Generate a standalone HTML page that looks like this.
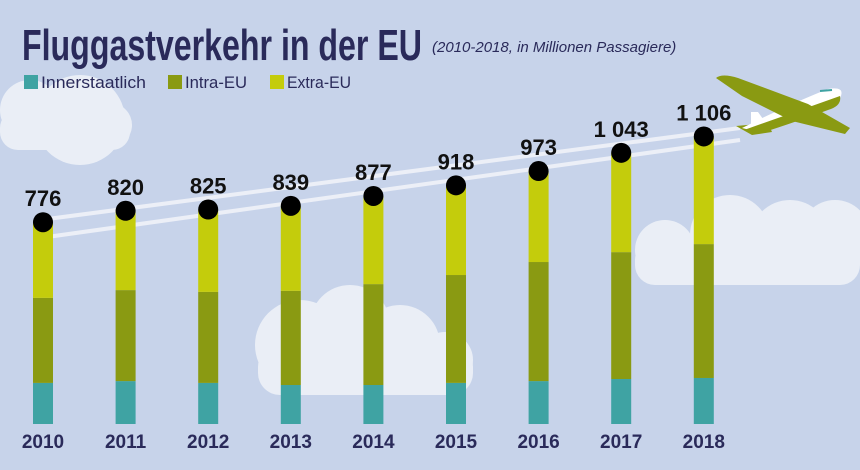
<!DOCTYPE html>
<html><head><meta charset="utf-8"><style>
html,body{margin:0;padding:0}
body{width:860px;height:470px;overflow:hidden;background:#c7d3ea;font-family:"Liberation Sans",sans-serif}
svg{display:block}
</style></head><body>
<svg width="860" height="470" viewBox="0 0 860 470">
<g fill="#eef2f8" opacity="0.9">
  <g><circle cx="30" cy="110" r="30"/><circle cx="80" cy="120" r="45"/><circle cx="110" cy="125" r="22"/><rect x="0" y="110" width="130" height="40" rx="18"/></g>
  <g><circle cx="300" cy="345" r="45"/><circle cx="350" cy="325" r="40"/><circle cx="400" cy="345" r="40"/><circle cx="445" cy="360" r="28"/><rect x="258" y="345" width="215" height="50" rx="22"/></g>
  <g><circle cx="665" cy="250" r="30"/><circle cx="730" cy="235" r="40"/><circle cx="790" cy="240" r="40"/><circle cx="835" cy="235" r="35"/><rect x="635" y="240" width="225" height="45" rx="20"/></g>
</g>
<g stroke="#f3f5fa" stroke-width="4" fill="none" opacity="0.85">
  <path d="M40 220 L740 128"/><path d="M40 238 L740 140"/>
</g>
<g>
  <path d="M751 112 L758 112 L768 126 L751 129 Z" fill="#ffffff"/>
  <path d="M736 126 L768 123 L772 132 L752 135 Z" fill="#8a9a12"/>
  <path d="M742 128 Q790 104 828 89 Q846 86 840 98 Q800 118 758 132 Z" fill="#ffffff"/>
  <path d="M744 130 Q795 112 840 96 Q842 106 828 110 Q790 124 758 134 Z" fill="#8a9a12"/>
  <path d="M716 78 Q722 73 738 78 L808 104 L850 128 L845 134 L792 121 L742 96 Z" fill="#8a9a12"/>
  <path d="M820 91 L832 90" stroke="#3fa3a3" stroke-width="2"/>
</g>
<text x="22" y="60" font-size="44" font-weight="bold" fill="#2a2a5a" textLength="400" lengthAdjust="spacingAndGlyphs">Fluggastverkehr in der EU</text>
<text x="432" y="52" font-size="15" font-style="italic" fill="#2a2a5a">(2010-2018, in Millionen Passagiere)</text>
<g font-size="17" fill="#2a2a5a">
  <rect x="24" y="75" width="14" height="14" fill="#3fa3a3"/><text x="41" y="88" textLength="105" lengthAdjust="spacingAndGlyphs">Innerstaatlich</text>
  <rect x="168" y="75" width="14" height="14" fill="#8a9a12"/><text x="185" y="88" textLength="62" lengthAdjust="spacingAndGlyphs">Intra-EU</text>
  <rect x="270" y="75" width="14" height="14" fill="#c4cc0c"/><text x="287" y="88" textLength="64" lengthAdjust="spacingAndGlyphs">Extra-EU</text>
</g>
<g id="bars"></g>
</svg>
<script>
const years = ["2010","2011","2012","2013","2014","2015","2016","2017","2018"];
const innerstaatlich = [158,165,158,150,150,158,165,173,177];
const intraEU = [327,350,350,362,388,415,458,488,515];
const extraEU = [291,305,317,327,339,345,350,382,414];
const totalLabels = ["776","820","825","839","877","918","973","1 043","1 106"];

const NS="http://www.w3.org/2000/svg";
const base=424, k=0.26, x0=43, step=82.6, bw=20;
const xPos=i=>x0+i*step;
const yPos=v=>base-v*k;
const g=document.getElementById('bars');
function mk(tag,attrs){const e=document.createElementNS(NS,tag);for(const a in attrs)e.setAttribute(a,attrs[a]);g.appendChild(e);return e;}
years.forEach((yr,i)=>{
  const cx=xPos(i);
  const segs=[[innerstaatlich[i],"#3fa3a3","innerstaatlich"],[intraEU[i],"#8a9a12","intra-eu"],[extraEU[i],"#c4cc0c","extra-eu"]];
  let cum=0;
  segs.forEach(s=>{
    const r=mk('rect',{x:cx-bw/2,y:yPos(cum+s[0]),width:bw,height:s[0]*k,fill:s[1]});
    
    
    cum+=s[0];
  });
  const c=mk('circle',{cx:cx,cy:yPos(cum),r:10,fill:"#000"});
  
  
  const t=mk('text',{x:cx,y:yPos(cum)-16,'text-anchor':'middle','font-size':22,'font-weight':'bold',fill:'#111'});
  t.textContent=totalLabels[i];
  
  
  const l=mk('text',{x:cx,y:448,'text-anchor':'middle','font-size':19,'font-weight':'bold',fill:'#2a2a5a'});
  l.textContent=yr;
  
  
});
</script>
</body></html>
